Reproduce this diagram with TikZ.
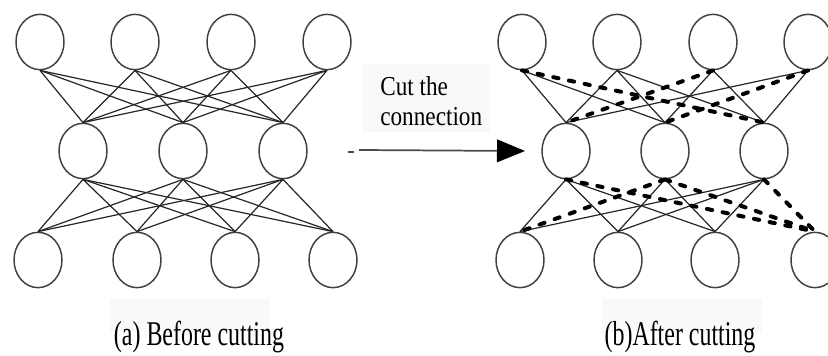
\documentclass[tikz,border=0pt]{standalone}
\usepackage{fontspec}
\setmainfont{Liberation Serif}
\usetikzlibrary{arrows.meta,shapes.geometric}
\begin{document}
\begin{tikzpicture}[x=0.75pt,y=-0.75pt,
  neuron/.style={shape=ellipse, draw=black!75, line width=1.1pt,
    minimum width=36pt, minimum height=41.5pt, inner sep=0pt},
  link/.style={draw=black!85, line width=0.9pt},
  cut/.style={draw=black, line width=3pt, dash pattern=on 4pt off 8pt, line cap=round},
  shade/.style={fill=black!2.5, draw=none},
  caption/.style={font=\fontsize{26}{30}\selectfont, anchor=base, inner sep=0pt},
  cuttext/.style={font=\fontsize{20.5}{22}\selectfont, anchor=base west, inner sep=0pt},
]
\useasboundingbox (0,0) rectangle (828,356);
\fill[white] (0,0) rectangle (828,356);

% light panels behind the texts
\path[shade] (110,299) rectangle (270,332);
\path[shade] (602,299) rectangle (762,332);
\path[shade] (362,64) rectangle (490,132);

% ---------- network before cutting ----------
\foreach \i/\x in {1/40,2/135,3/231,4/327}
  \node[neuron] (lt\i) at (\x,42) {};
\foreach \i/\x in {1/83,2/183,3/283}
  \node[neuron] (lm\i) at (\x,151) {};
\foreach \i/\x in {1/38,2/137,3/235,4/333}
  \node[neuron] (lb\i) at (\x,260) {};

\foreach \i in {1,...,4}
  \foreach \j in {1,2,3}
    \draw[link] (lt\i.south) -- (lm\j.north);
\foreach \j in {1,2,3}
  \foreach \k in {1,...,4}
    \draw[link] (lm\j.south) -- (lb\k.north);

% ---------- network after cutting ----------
\foreach \i/\x in {1/522,2/617,3/713,4/808}
  \node[neuron] (rt\i) at (\x,42) {};
\foreach \i/\x in {1/566,2/665,3/764}
  \node[neuron] (rm\i) at (\x,151) {};
\foreach \i/\x in {1/520,2/618,3/715,4/815}
  \node[neuron] (rb\i) at (\x,260) {};

% kept connections
\foreach \i/\j in {1/1,1/2,2/1,2/2,2/3,3/2,3/3,4/1,4/3}
  \draw[link] (rt\i.south) -- (rm\j.north);
\foreach \j/\k in {1/1,1/2,1/3,2/2,2/3,3/1,3/2,3/3}
  \draw[link] (rm\j.south) -- (rb\k.north);

% cut connections
\foreach \i/\j in {1/3,3/1,4/2}
  \draw[cut] (rt\i.south) -- (rm\j.north);
\foreach \j/\k in {1/4,2/1,2/4,3/4}
  \draw[cut] (rm\j.south) -- (rb\k.north);

% ---------- arrow and labels ----------
\node[cuttext] (cut1) at (380,96) {\scalebox{0.85}[1]{Cut the}};
\node[cuttext] (cut2) at (380,125.5) {\scalebox{0.85}[1]{connection}};

\coordinate (dashA) at (348,152);
\coordinate (dashB) at (354,152);
\coordinate (arrA) at (359,150);
\coordinate (arrB) at (525,151);
\draw[draw=black!70, line width=1.3pt] (dashA) -- (dashB);
\draw[draw=black!70, line width=1.3pt,
  -{Triangle[length=21pt,width=17pt,color=black]}] (arrA) -- (arrB);

\node[caption] (capa) at (199,345) {\scalebox{0.69}[1]{(a) Before cutting}};
\node[caption] (capb) at (680,345) {\scalebox{0.69}[1]{(b)After cutting}};
\end{tikzpicture}
\end{document}
